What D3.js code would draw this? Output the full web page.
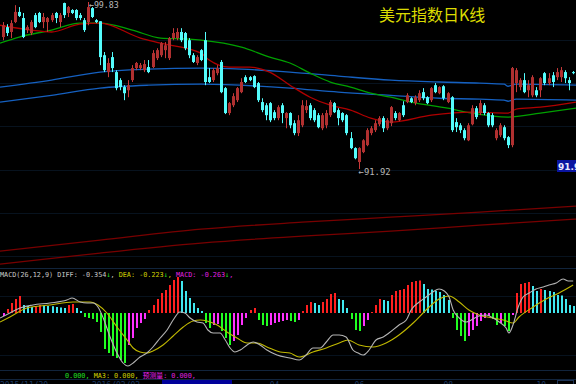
<!DOCTYPE html>
<html><head><meta charset="utf-8">
<script src="https://cdn.jsdelivr.net/npm/d3@7"></script>
<style>html,body{margin:0;padding:0;background:#000;overflow:hidden}</style>
</head><body><svg id="c" width="576" height="384"></svg>
<script>
const opens = [98.17,98.64,98.41,98.88,99.36,99.07,98.50,98.36,99.21,99.31,98.88,98.88,98.97,99.31,98.88,99.78,99.31,99.45,99.45,99.21,98.97,98.88,99.54,98.97,98.92,97.31,96.51,97.22,96.51,96.13,95.80,95.65,96.13,96.70,96.70,96.60,96.75,96.75,97.17,97.31,97.55,97.17,98.12,98.12,98.41,98.36,98.02,97.31,96.94,97.55,98.02,96.27,96.13,96.46,96.99,95.75,94.57,94.94,95.18,95.56,96.27,96.27,96.32,95.99,95.09,94.94,95.04,94.61,94.33,94.94,94.33,94.57,94.09,93.62,93.99,94.71,94.94,94.71,94.47,93.85,93.99,94.47,95.04,94.71,94.57,94.47,93.38,92.91,92.25,92.72,93.05,93.62,93.76,94.04,94.33,93.85,94.09,94.57,94.23,94.94,95.09,95.27,95.04,95.18,95.56,95.32,95.18,95.89,95.51,95.84,95.09,95.32,94.14,93.99,93.76,93.28,94.04,94.80,94.57,94.94,94.57,94.47,93.38,93.52,93.90,93.43,93.05,95.99,95.80,96.13,95.65,95.41,95.65,95.65,96.46,95.99,96.36,96.27,96.27,96.51,96.13,96.51];
const highs = [98.88,98.78,98.97,99.68,99.59,99.31,98.73,98.97,99.31,99.36,99.31,99.12,99.31,99.36,99.31,99.80,99.64,99.49,99.49,99.31,99.07,99.83,99.59,99.02,98.92,97.46,97.17,97.46,96.60,96.22,95.89,96.13,96.84,96.99,96.94,97.08,97.08,97.55,97.64,97.93,97.93,98.17,98.59,98.59,98.59,98.41,98.12,97.41,97.31,97.60,98.41,96.70,96.70,96.84,97.08,95.80,95.09,95.51,95.80,96.22,96.36,96.32,96.36,96.04,95.27,95.04,95.09,94.71,94.94,95.04,94.61,94.61,94.23,94.47,95.18,95.18,95.04,94.80,94.57,94.57,94.71,95.18,95.09,94.80,94.61,94.52,93.67,92.95,92.95,93.33,93.85,93.95,94.23,94.42,94.42,94.33,94.90,94.66,94.61,95.13,95.51,95.32,95.41,95.65,95.75,95.37,95.80,95.99,95.84,95.89,95.56,95.37,94.33,94.09,93.85,94.09,94.94,94.90,95.18,95.04,94.61,94.57,93.85,94.09,93.99,93.48,96.75,96.70,96.22,96.46,96.13,96.36,95.80,96.27,96.51,96.46,96.51,96.70,96.75,96.60,96.27,96.56];
const lows = [98.02,98.22,98.12,98.83,99.12,98.12,98.36,98.26,98.59,98.83,98.59,98.41,98.88,98.83,98.64,99.07,99.12,99.26,98.97,98.97,98.41,98.73,99.07,98.83,96.84,96.51,96.27,96.51,95.65,95.65,95.18,95.32,96.04,96.60,96.60,96.51,96.46,96.70,97.08,97.22,97.17,97.08,98.02,98.02,97.93,97.55,97.17,96.94,96.84,97.03,95.89,95.99,96.04,96.36,95.51,94.52,94.47,94.85,95.09,95.51,95.99,96.08,95.75,95.09,94.61,94.23,94.14,94.23,94.23,94.09,93.85,93.85,93.52,93.48,93.90,94.57,94.23,94.14,93.85,93.76,93.85,94.38,94.57,93.99,94.14,93.52,92.86,92.38,91.92,92.67,93.00,93.52,93.67,93.95,93.67,93.76,93.95,94.23,94.18,94.38,95.04,95.04,94.94,95.09,95.18,94.99,95.09,95.51,95.46,95.18,95.04,93.67,93.67,93.62,93.28,93.24,93.99,94.28,94.47,94.47,93.90,93.90,93.28,93.43,93.28,92.91,92.95,95.56,95.65,95.51,95.32,95.32,95.32,95.32,95.89,95.89,95.80,96.13,96.04,95.99,95.65,96.41];
const closes = [98.73,98.36,98.83,99.36,99.17,98.17,98.64,98.88,98.64,98.88,99.12,99.07,99.21,99.07,99.21,99.21,99.59,99.31,99.07,99.07,98.50,99.59,99.12,98.88,97.22,96.60,96.94,96.70,95.75,95.80,95.51,95.89,96.70,96.94,96.84,96.89,96.51,97.41,97.55,97.88,97.78,98.12,98.36,98.41,98.02,97.64,97.31,96.99,97.22,97.08,96.04,96.04,96.60,96.70,95.56,94.57,95.04,95.37,95.75,96.04,96.04,96.13,95.80,95.18,94.71,94.47,94.23,94.33,94.85,94.57,94.57,93.99,93.62,94.23,94.94,94.90,94.33,94.23,93.90,94.47,94.57,95.09,94.61,94.33,94.23,93.62,92.91,92.43,92.91,93.28,93.76,93.85,94.09,94.33,93.85,94.23,94.85,94.33,94.57,94.47,95.41,95.09,95.32,95.51,95.27,95.04,95.75,95.56,95.80,95.27,95.51,93.76,93.90,93.76,93.38,93.99,94.80,94.38,95.04,94.57,93.99,93.99,93.76,93.99,93.38,93.05,96.70,96.60,96.13,95.56,95.89,96.27,95.41,96.22,95.99,96.22,96.04,96.51,96.60,96.22,95.99,96.46];

// moving averages as [candle index, price]
const maRed = [[-0.75,98.73],[7,98.50],[12,98.41],[19,98.78],[24,98.83],[34,98.12],[39,97.88],[49,97.41],[51,97.08],[56,96.75],[61,96.75],[66,96.51],[71,95.89],[76,95.32],[81,94.94],[86,94.71],[91,94.33],[96,94.14],[106,94.47],[116,94.61],[125,94.57],[127,94.76],[133,94.85],[141.8,95.09]];
const maGreen = [[-0.75,97.88],[4,98.17],[12,98.50],[19,98.83],[24,98.83],[32,98.50],[39,98.12],[46,98.07],[49,98.02],[59,97.69],[66,97.22],[71,96.94],[76,96.46],[81,96.04],[86,95.80],[91,95.51],[96,95.32],[101,95.09],[110,94.80],[116,94.57],[125,94.38],[133,94.57],[141.8,94.80]];
const maBlueA = [[-0.75,95.80],[12,96.13],[24,96.51],[36,96.65],[49,96.70],[59,96.65],[71,96.51],[83,96.32],[96,96.13],[108,96.04],[118,95.99],[124,95.94],[125,95.84],[127,95.94],[141.8,95.89]];
const maBlueB = [[-0.75,95.09],[12,95.41],[24,95.75],[36,95.89],[49,95.94],[71,95.75],[83,95.56],[96,95.41],[108,95.27],[118,95.23],[124,95.18],[125,95.13],[127,95.23],[141.8,95.18]];
const maLongA = [[-0.75,88.03],[24,88.55],[49,89.07],[74,89.40],[96,89.64],[118,89.88],[141.8,90.16]];
const maLongB = [[-0.75,87.41],[24,87.94],[49,88.41],[74,88.74],[96,88.98],[118,89.26],[141.8,89.55]];

const macdHist = [-0.03,0.04,0.10,0.14,0.17,0.08,0.07,0.06,0.07,0.08,0.075,0.07,0.068,0.06,0.055,0.05,0.08,0.09,0.05,0.02,-0.04,-0.05,-0.06,-0.09,-0.19,-0.36,-0.40,-0.43,-0.45,-0.47,-0.50,-0.32,-0.25,-0.15,-0.10,-0.06,0.03,0.08,0.14,0.20,0.23,0.28,0.33,0.36,0.32,0.22,0.15,0.10,0.05,0.02,-0.10,-0.15,-0.12,-0.11,-0.18,-0.25,-0.32,-0.28,-0.22,-0.12,-0.05,0.03,0.05,-0.07,-0.12,-0.13,-0.12,-0.10,-0.09,-0.08,-0.07,-0.08,-0.09,-0.07,0.02,0.08,0.11,0.10,0.08,0.11,0.14,0.19,0.20,0.14,0.13,0.05,-0.06,-0.17,-0.18,-0.13,-0.07,0.01,0.08,0.14,0.13,0.12,0.18,0.22,0.23,0.24,0.28,0.31,0.32,0.325,0.29,0.24,0.235,0.22,0.21,0.18,0.13,-0.05,-0.17,-0.23,-0.28,-0.23,-0.17,-0.13,-0.08,-0.05,-0.03,-0.06,-0.12,-0.10,-0.13,-0.18,-0.02,0.20,0.29,0.30,0.31,0.27,0.22,0.24,0.23,0.22,0.21,0.18,0.175,0.14,0.08,0.07];
const diffPts = [[-0.75,-0.05],[1.7,0.00],[4.2,0.05],[7.4,0.08],[11.6,0.10],[15.8,0.13],[17.1,0.15],[19.1,0.11],[20.8,0.10],[22.3,0.10],[23.5,0.06],[24.8,-0.05],[26.5,-0.24],[28.2,-0.40],[29.7,-0.50],[30.9,-0.53],[32.2,-0.50],[33.9,-0.44],[35.6,-0.40],[37.1,-0.34],[38.9,-0.25],[40.6,-0.17],[42.1,-0.07],[43.8,0.01],[45,0.00],[46.3,-0.05],[48,-0.09],[49.5,-0.10],[50.7,-0.17],[52,-0.20],[53.7,-0.20],[55,-0.27],[56.2,-0.35],[57.4,-0.39],[58.7,-0.37],[60.4,-0.32],[61.9,-0.29],[63.6,-0.32],[65.3,-0.37],[67.8,-0.42],[71,-0.45],[73.3,-0.47],[75,-0.42],[76.7,-0.35],[78.5,-0.35],[80,-0.29],[81.7,-0.22],[83.2,-0.22],[84.9,-0.24],[86.6,-0.37],[87.9,-0.40],[89.1,-0.42],[90.6,-0.37],[92.3,-0.27],[94.1,-0.24],[95.5,-0.20],[98,-0.12],[99.8,-0.07],[101,0.03],[103,0.11],[104.7,0.16],[106.4,0.21],[107.9,0.24],[109.2,0.22],[110.4,0.16],[111.4,0.03],[112.9,-0.05],[114.6,-0.09],[116.3,-0.06],[117.8,-0.03],[119.6,-0.02],[121.3,-0.05],[122.8,-0.09],[124.5,-0.15],[125.2,-0.20],[126.2,-0.12],[127.5,0.06],[128.7,0.16],[130.2,0.20],[131.9,0.24],[133.7,0.26],[135.1,0.28],[136.9,0.30],[138.6,0.34],[139.9,0.32],[141.1,0.32]];
const deaPts = [[-0.75,-0.09],[1.7,-0.04],[5.9,0.05],[11.6,0.08],[17.3,0.11],[21.5,0.11],[23.5,0.08],[25.7,0.00],[28.2,-0.14],[30.7,-0.27],[32.2,-0.35],[33.9,-0.39],[35.6,-0.40],[37.1,-0.38],[39.6,-0.32],[42.1,-0.23],[44.6,-0.14],[47,-0.08],[48.8,-0.07],[50.5,-0.08],[53,-0.12],[55.4,-0.19],[57.9,-0.25],[60.4,-0.30],[62.9,-0.30],[65.3,-0.34],[68.6,-0.39],[71,-0.40],[73.3,-0.44],[76.7,-0.39],[80,-0.35],[83.2,-0.30],[85.4,-0.27],[88.1,-0.32],[91.6,-0.34],[94.8,-0.30],[98,-0.22],[101.5,-0.10],[104.7,0.03],[107.9,0.14],[110.4,0.17],[112.9,0.11],[115.3,0.03],[117.8,-0.02],[121.3,-0.05],[123.8,-0.07],[126.2,-0.10],[127.7,-0.04],[131.2,0.06],[134.4,0.14],[137.6,0.20],[141.1,0.28]];

const dateLabels = ["2015/11/30","2016/02/02","04","06","08","10"];
const dateIdx = [-0.75,22,66,87,109,132];

const title = "美元指数日K线";
const highLabel = "99.83", lowLabel = "91.92", priceBox = "91.92";

const svg = d3.select("#c");
svg.append("rect").attr("width",576).attr("height",384).attr("fill","#000");

const x = d3.scaleLinear().domain([-0.75, 141.8]).range([0, 576]);
const yP = d3.scaleLinear().domain([91.92, 99.83]).range([169, 2]);
const yM = d3.scaleLinear().domain([-0.5, 0.36]).range([363, 277]);

const defs = svg.append("defs");
defs.append("clipPath").attr("id","cm").append("rect").attr("x",0).attr("y",0).attr("width",576).attr("height",268);
defs.append("clipPath").attr("id","cd").append("rect").attr("x",0).attr("y",269).attr("width",576).attr("height",101);

// grid lines
const grid = svg.append("g");
[40,83,126,170,213,256,296,355].forEach(v => grid.append("line").attr("x1",0).attr("x2",576).attr("y1",v+0.5).attr("y2",v+0.5).attr("stroke","#07121e"));
[268,370,379].forEach(v => grid.append("line").attr("x1",0).attr("x2",576).attr("y1",v+0.5).attr("y2",v+0.5).attr("stroke","#11243c"));

const main = svg.append("g").attr("clip-path","url(#cm)");
const lineP = d3.line().x(d => x(d[0])).y(d => yP(d[1])).curve(d3.curveMonotoneX);
[[maLongA,"#780000"],[maLongB,"#780000"],[maBlueA,"#1560c0"],[maBlueB,"#1560c0"],[maGreen,"#00a000"],[maRed,"#b00000"]].forEach(([d,c]) => {
  main.append("path").datum(d).attr("d",lineP).attr("fill","none").attr("stroke",c).attr("stroke-width",1.3);
});

const candles = d3.range(opens.length).map(i => ({i,o:opens[i],h:highs[i],l:lows[i],c:closes[i]}));
const up = d => d.c >= d.o;
const cx = d => Math.round(x(d.i));
main.append("g").selectAll("line").data(candles).join("line")
  .attr("x1", d => cx(d)+0.5).attr("x2", d => cx(d)+0.5)
  .attr("y1", d => yP(d.h)).attr("y2", d => yP(d.l))
  .attr("stroke", d => up(d) ? "#c83a3a" : "#54fcfc").attr("stroke-width",1);
main.append("g").selectAll("rect").data(candles).join("rect")
  .attr("x", d => cx(d)-1).attr("width",3)
  .attr("y", d => yP(Math.max(d.o,d.c)))
  .attr("height", d => Math.max(1, yP(Math.min(d.o,d.c)) - yP(Math.max(d.o,d.c))))
  .attr("fill", d => up(d) ? "#b03030" : "#54fcfc");

// annotations
const hiI = highs.indexOf(d3.max(highs)), loI = lows.indexOf(d3.min(lows));
svg.append("text").attr("x", x(hiI)+1).attr("y", yP(d3.max(highs))+6)
  .attr("font-family","DejaVu Sans Mono").attr("font-size",9).attr("fill","#b8b8b8")
  .attr("textLength",30).attr("lengthAdjust","spacingAndGlyphs").text("←"+highLabel);
svg.append("text").attr("x", x(loI)).attr("y", yP(d3.min(lows))+6)
  .attr("font-family","DejaVu Sans Mono").attr("font-size",9).attr("fill","#b8b8b8")
  .attr("textLength",32).attr("lengthAdjust","spacingAndGlyphs").text("←"+lowLabel);
svg.append("rect").attr("x",557).attr("y",160).attr("width",19).attr("height",12).attr("fill","#0a14a0");
svg.append("text").attr("x",558).attr("y",170).attr("font-family","DejaVu Sans").attr("font-weight","bold").attr("font-size",9).attr("fill","#e8e8ff").text(priceBox);

svg.append("text").attr("x",379).attr("y",21).attr("font-family","Noto Sans CJK SC").attr("font-size",16).attr("fill","#dcdc00").text(title);

// MACD panel
const md = svg.append("g").attr("clip-path","url(#cd)");
const bars = macdHist.map((v,i) => ({i, v, prev: i ? macdHist[i-1] : -Infinity}));
const barCol = d => d.v >= 0 ? (d.v >= d.prev ? "#ff2020" : "#40e8f0") : (d.v <= d.prev ? "#20ff20" : "#ff30ff");
md.append("g").selectAll("rect").data(bars).join("rect")
  .attr("x", d => Math.round(x(d.i))).attr("width",2)
  .attr("y", d => yM(Math.max(d.v,0))).attr("height", d => Math.abs(yM(d.v)-yM(0)))
  .attr("fill", barCol);
const lineM = d3.line().x(d => x(d[0])).y(d => yM(d[1])).curve(d3.curveMonotoneX);
md.append("path").datum(deaPts).attr("d",lineM).attr("fill","none").attr("stroke","#c0b800").attr("stroke-width",1.1);
md.append("path").datum(diffPts).attr("d",lineM).attr("fill","none").attr("stroke","#b4b4b4").attr("stroke-width",1.1);

// header text as a single line of coloured spans (small monospace, no stretching)
const hdrParts = [["MACD(26,12,9) DIFF: -0.354","#c8c8c8"],["↓","#20e020"],[", ","#c8c8c8"],["DEA: -0.223","#d0d000"],["↓","#20e020"],[", ","#d0d000"],["MACD: -0.263","#e020e0"],["↓","#20e020"],[",","#e020e0"]];
const hdr = svg.append("text").attr("x",0).attr("y",277).attr("font-family","DejaVu Sans Mono").attr("font-size",6.8);
hdrParts.forEach(([t,c]) => hdr.append("tspan").attr("fill",c).text(t));

// bottom row
svg.append("rect").attr("x",162).attr("y",380).attr("width",70).attr("height",4).attr("fill","#00009a");
svg.append("rect").attr("x",557.5).attr("y",380.5).attr("width",16).attr("height",6).attr("fill","none").attr("stroke","#1e3456");
const botParts = [["0.000, ","#20e020","DejaVu Sans Mono"],["MA3: 0.000, ","#d0d000","DejaVu Sans Mono"],["预测量","#f020f0","Noto Sans CJK SC"],[": 0.000,","#e020e0","DejaVu Sans Mono"]];
const bot = svg.append("text").attr("x",65).attr("y",378).attr("font-size",6.8);
botParts.forEach(([t,c,f]) => bot.append("tspan").attr("fill",c).attr("font-family",f).text(t));

const dl = svg.append("g").attr("font-family","DejaVu Sans Mono").attr("font-size",8).attr("fill","#1c3a66");
dateLabels.forEach((t,k) => dl.append("text").attr("x", Math.max(0, x(dateIdx[k]))).attr("y",388).text(t));
</script>
</body></html>
